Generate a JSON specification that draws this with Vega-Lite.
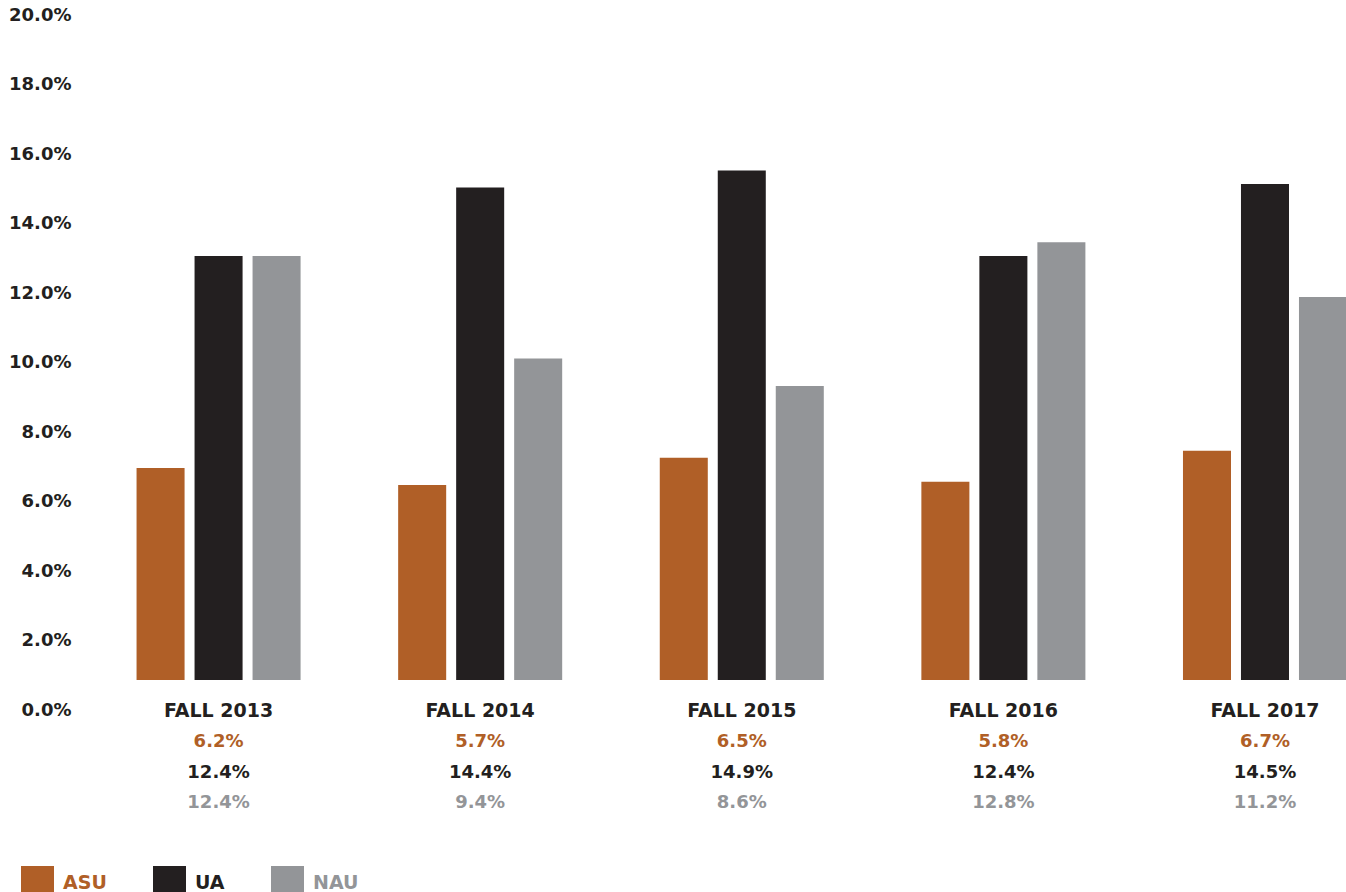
{
  "$schema": "https://vega.github.io/schema/vega-lite/v6.json",
  "width": 1268,
  "height": 680,
  "padding": {"left": 8, "top": 0, "right": 0, "bottom": 0},
  "autosize": {"type": "pad"},
  "background": "white",
  "config": {
    "view": {"stroke": null},
    "font": "DejaVu Sans",
    "axis": {"grid": false, "ticks": false, "domain": false, "title": null}
  },
  "data": {
    "values": [
      {"term": "FALL 2013", "school": "ASU", "rate": 0.062},
      {"term": "FALL 2013", "school": "UA", "rate": 0.124},
      {"term": "FALL 2013", "school": "NAU", "rate": 0.124},
      {"term": "FALL 2014", "school": "ASU", "rate": 0.057},
      {"term": "FALL 2014", "school": "UA", "rate": 0.144},
      {"term": "FALL 2014", "school": "NAU", "rate": 0.094},
      {"term": "FALL 2015", "school": "ASU", "rate": 0.065},
      {"term": "FALL 2015", "school": "UA", "rate": 0.149},
      {"term": "FALL 2015", "school": "NAU", "rate": 0.086},
      {"term": "FALL 2016", "school": "ASU", "rate": 0.058},
      {"term": "FALL 2016", "school": "UA", "rate": 0.124},
      {"term": "FALL 2016", "school": "NAU", "rate": 0.128},
      {"term": "FALL 2017", "school": "ASU", "rate": 0.067},
      {"term": "FALL 2017", "school": "UA", "rate": 0.145},
      {"term": "FALL 2017", "school": "NAU", "rate": 0.112}
    ]
  },
  "layer": [
    {
      "mark": {"type": "bar"},
      "encoding": {
        "x": {
          "field": "term", "type": "nominal", "sort": null,
          "scale": {"paddingInner": 0.373, "paddingOuter": 0.11, "align": 1},
          "axis": {
            "labelAngle": 0, "labelFontSize": 19, "labelFontWeight": "bold",
            "labelColor": "#231F20", "labelPadding": 21
          }
        },
        "xOffset": {
          "field": "school", "type": "nominal", "sort": ["ASU", "UA", "NAU"],
          "scale": {"paddingInner": 0.172, "paddingOuter": 0}
        },
        "y": {
          "field": "rate", "type": "quantitative",
          "scale": {"domain": [0, 0.2], "range": [680, -4], "nice": false},
          "axis": null
        },
        "color": {
          "field": "school", "type": "nominal", "sort": ["ASU", "UA", "NAU"],
          "scale": {"domain": ["ASU", "UA", "NAU"], "range": ["#B05F27", "#231F20", "#939598"]},
          "legend": {
            "title": null, "orient": "none", "legendX": -58, "legendY": 866,
            "direction": "horizontal", "symbolType": "square", "symbolSize": 1089,
            "symbolStrokeWidth": 0, "symbolOpacity": 1,
            "labelFontSize": 19, "labelFontWeight": "bold", "labelOffset": 9,
            "columnPadding": 46,
            "encoding": {
              "labels": {
                "fill": {
                  "condition": [
                    {"test": "datum.value === 'ASU'", "value": "#B05F27"},
                    {"test": "datum.value === 'NAU'", "value": "#939598"}
                  ],
                  "value": "#231F20"
                }
              }
            }
          }
        }
      }
    },
    {
      "mark": {"type": "point", "opacity": 0},
      "encoding": {
        "x": {"field": "term", "type": "nominal", "sort": null},
        "y": {
          "field": "rate", "type": "quantitative",
          "scale": {"domain": [0, 0.2], "range": [710, 15], "nice": false},
          "axis": {
            "orient": "left", "values": [0, 0.02, 0.04, 0.06, 0.08, 0.1, 0.12, 0.14, 0.16, 0.18, 0.2],
            "format": ".1%", "labelFontSize": 18, "labelFontWeight": "bold",
            "labelColor": "#231F20", "labelPadding": 8
          }
        }
      }
    },
    {
      "mark": {"type": "text", "fontSize": 18, "fontWeight": "bold", "align": "center", "baseline": "middle"},
      "encoding": {
        "x": {"field": "term", "type": "nominal", "sort": null},
        "y": {
          "field": "school", "type": "nominal",
          "scale": {"type": "point", "domain": ["ASU", "UA", "NAU"], "range": [742, 803], "padding": 0},
          "axis": null
        },
        "text": {"field": "rate", "type": "quantitative", "format": ".1%"},
        "color": {"field": "school", "type": "nominal", "sort": ["ASU", "UA", "NAU"]}
      }
    }
  ],
  "resolve": {"scale": {"y": "independent"}}
}
